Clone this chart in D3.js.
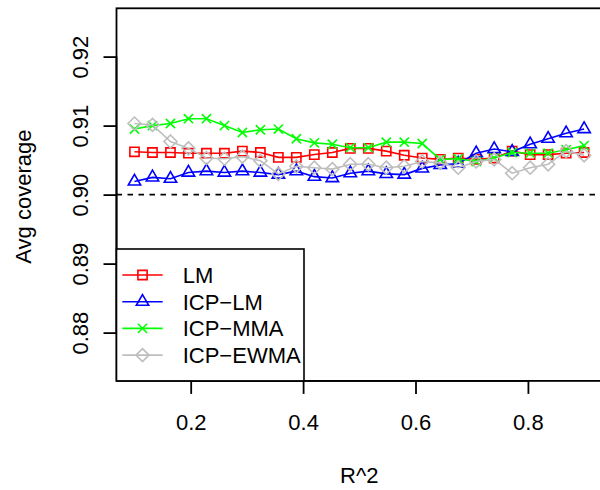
<!DOCTYPE html>
<html><head><meta charset="utf-8">
<script src="https://cdn.jsdelivr.net/npm/d3@7"></script>
<style>html,body{margin:0;padding:0;background:#fff;}svg{display:block;}</style>
</head><body>
<script>
const r2 = [0.1,0.132,0.164,0.196,0.228,0.26,0.292,0.324,0.356,0.388,0.42,0.452,0.484,0.516,0.548,0.58,0.612,0.644,0.676,0.708,0.74,0.772,0.804,0.836,0.868,0.9];
const lm = [0.9062,0.9061,0.9061,0.9060,0.9060,0.9060,0.9063,0.9061,0.9054,0.9054,0.9058,0.9061,0.9067,0.9067,0.9063,0.9057,0.9053,0.9051,0.9053,0.9051,0.9053,0.9063,0.9058,0.9058,0.9060,0.9061];
const icpLm = [0.9019,0.9025,0.9023,0.9032,0.9034,0.9032,0.9034,0.9032,0.9029,0.9034,0.9026,0.9024,0.9031,0.9034,0.9030,0.9029,0.9038,0.9043,0.9045,0.9060,0.9066,0.9062,0.9073,0.9081,0.9089,0.9095];
const icpMma = [0.9095,0.9100,0.9103,0.9110,0.9110,0.9100,0.9090,0.9094,0.9095,0.9081,0.9075,0.9073,0.9068,0.9068,0.9076,0.9076,0.9074,0.9051,0.9052,0.9048,0.9053,0.9061,0.9060,0.9060,0.9065,0.9071];
const icpEwma = [0.9103,0.9101,0.9077,0.9067,0.9053,0.9052,0.9055,0.9049,0.9030,0.9041,0.9039,0.9037,0.9044,0.9044,0.9039,0.9041,0.9048,0.9046,0.9039,0.9048,0.9051,0.9031,0.9039,0.9044,0.9063,0.9057];
const seriesNames = ["LM","ICP\u2212LM","ICP\u2212MMA","ICP\u2212EWMA"];
const seriesColors = ["#FF0000","#0000FF","#00FF00","#BEBEBE"];
const seriesShapes = ["square","triangle","cross","diamond"];
const xTicks = [0.2,0.4,0.6,0.8];
const yTicks = [0.88,0.89,0.90,0.91,0.92];
const refLine = 0.90;
const xLabel = "R^2", yLabel = "Avg coverage";

const W = 600, H = 490;
const FONT = "Liberation Sans, Arial, Helvetica, sans-serif";
const FS = 22;
const svg = d3.select("body").append("svg").attr("width", W).attr("height", H);
const x = d3.scaleLinear().domain([0.068, 0.932]).range([116.5, 602.1]);
const y = d3.scaleLinear().domain([0.873, 0.927]).range([380.9, 8.3]);
const series = [lm, icpLm, icpMma, icpEwma];

const xc = 4.6;
function markerPath(shape){
  const p = d3.path();
  if(shape==="square"){ p.rect(-xc,-xc,2*xc,2*xc); }
  else if(shape==="triangle"){
    const r = 1.5551*xc, a = 1.3468*xc, b = 0.7776*xc;
    p.moveTo(0,-r); p.lineTo(a,b); p.lineTo(-a,b); p.closePath();
  } else if(shape==="cross"){
    p.moveTo(-xc,-xc); p.lineTo(xc,xc); p.moveTo(-xc,xc); p.lineTo(xc,-xc);
  } else if(shape==="diamond"){
    const d = 1.4142*xc;
    p.moveTo(0,-d); p.lineTo(d,0); p.lineTo(0,d); p.lineTo(-d,0); p.closePath();
  }
  return p.toString();
}

// reference line
svg.append("line").attr("x1", x.range()[0]).attr("x2", x.range()[1])
  .attr("y1", y(refLine)).attr("y2", y(refLine))
  .attr("stroke","#000").attr("stroke-width",1.6).attr("stroke-dasharray","5.5,5.5");

// series
const line = d3.line().x((d,i)=>x(r2[i])).y(d=>y(d));
series.forEach((s, k)=>{
  const g = svg.append("g");
  g.append("path").attr("d", line(s)).attr("fill","none")
    .attr("stroke", seriesColors[k]).attr("stroke-width",1.6);
  g.selectAll("path.m").data(s).join("path").attr("class","m")
    .attr("d", markerPath(seriesShapes[k]))
    .attr("transform",(d,i)=>`translate(${x(r2[i])},${y(d)})`)
    .attr("fill","none")
    .attr("stroke", seriesColors[k]).attr("stroke-width",1.6);
});

// box
svg.append("rect").attr("x", x.range()[0]).attr("y", y.range()[1])
  .attr("width", x.range()[1]-x.range()[0]).attr("height", y.range()[0]-y.range()[1])
  .attr("fill","none").attr("stroke","#000").attr("stroke-width",1.8);

// x axis
const xAxis = svg.append("g").attr("transform",`translate(0,${y.range()[0]})`)
  .call(d3.axisBottom(x).tickValues(xTicks).tickSize(13).tickPadding(20).tickFormat(d3.format(".1f")));
xAxis.select(".domain").attr("d", `M${x(xTicks[0])},0H${x(xTicks[xTicks.length-1])}`).attr("stroke-width",1.8);
xAxis.selectAll(".tick line").attr("stroke-width",1.8);
xAxis.selectAll("text").attr("font-size",FS).attr("font-family",FONT).attr("fill","#000");

// y axis
const yAxis = svg.append("g").attr("transform",`translate(${x.range()[0]},0)`)
  .call(d3.axisLeft(y).tickValues(yTicks).tickSize(13).tickFormat(d3.format(".2f")));
yAxis.select(".domain").attr("d", `M0,${y(yTicks[0])}V${y(yTicks[yTicks.length-1])}`).attr("stroke-width",1.8);
yAxis.selectAll(".tick line").attr("stroke-width",1.8);
yAxis.selectAll("text").attr("font-size",FS).attr("font-family",FONT).attr("fill","#000")
  .attr("x",null).attr("dy",null)
  .attr("text-anchor","middle")
  .attr("transform","translate(-29,0) rotate(-90)");

// axis titles
svg.append("text").attr("x", (x.range()[0]+x.range()[1])/2).attr("y", 483)
  .attr("text-anchor","middle").attr("font-size",FS).attr("font-family",FONT).text(xLabel);
svg.append("text").attr("transform",`translate(31,${(y.range()[0]+y.range()[1])/2 + 2}) rotate(-90)`)
  .attr("text-anchor","middle").attr("font-size",FS).attr("font-family",FONT).text(yLabel);

// legend
const lg = svg.append("g");
lg.append("rect").attr("x", x.range()[0]).attr("y", 249).attr("width", 304-x.range()[0]).attr("height", y.range()[0]-249)
  .attr("fill","#fff").attr("stroke","#000").attr("stroke-width",1.6);
seriesNames.forEach((n,k)=>{
  const yy = 275 + k*26.7;
  lg.append("line").attr("x1",122.3).attr("x2",162.7).attr("y1",yy).attr("y2",yy)
    .attr("stroke",seriesColors[k]).attr("stroke-width",1.6);
  lg.append("path").attr("d", markerPath(seriesShapes[k])).attr("transform",`translate(142.5,${yy})`)
    .attr("fill","none").attr("stroke",seriesColors[k]).attr("stroke-width",1.6);
  lg.append("text").attr("x",182.7).attr("y",yy).attr("dy","0.36em")
    .attr("font-size",FS).attr("font-family",FONT).text(n);
});
</script>
</body></html>
